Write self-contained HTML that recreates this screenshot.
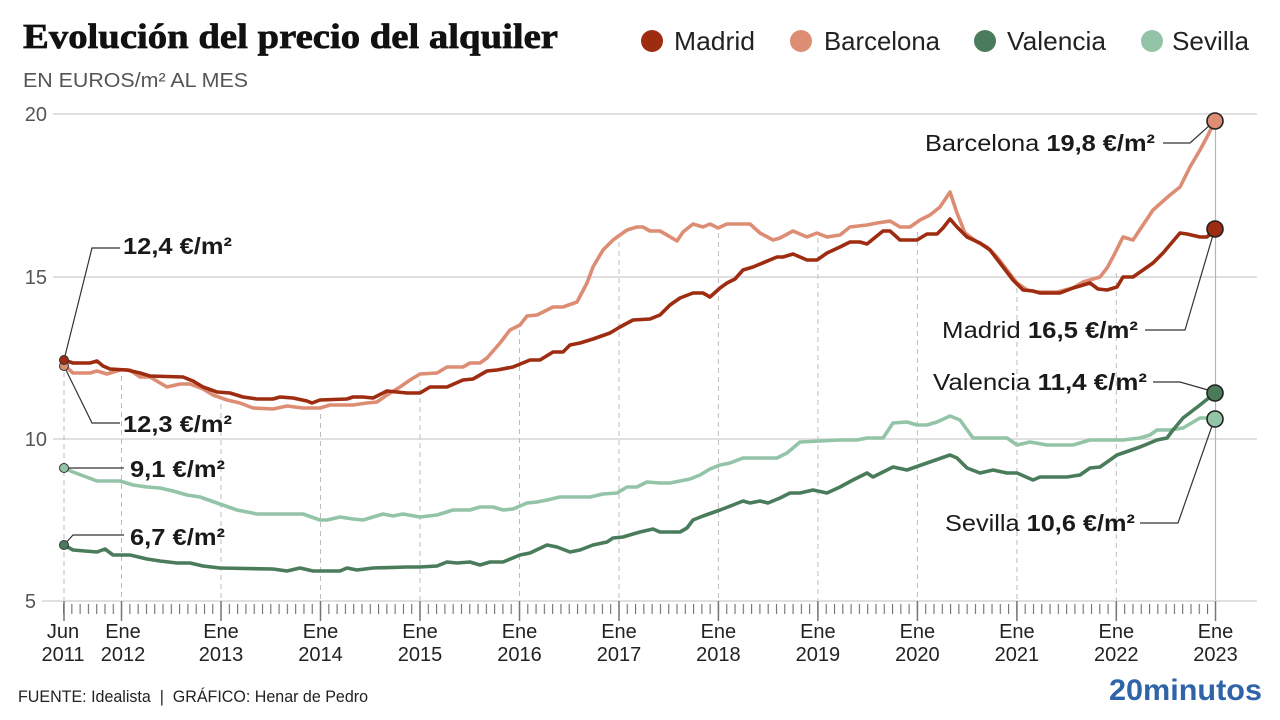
<!DOCTYPE html>
<html>
<head>
<meta charset="utf-8">
<style>
  html,body{margin:0;padding:0;background:#fff;}
  svg{display:block;}
  text{font-family:"Liberation Sans", Arial, sans-serif;}
</style>
</head>
<body>
<svg width="1280" height="720" viewBox="0 0 1280 720" xmlns="http://www.w3.org/2000/svg">
  <defs>
    <pattern id="tk" x="63" y="0" width="8.29" height="720" patternUnits="userSpaceOnUse">
      <rect x="0" y="0" width="1.1" height="720" fill="#6f6f6f"/>
    </pattern>
  </defs>
  <rect width="1280" height="720" fill="#fff"/>

  <!-- Title -->
  <text x="23" y="48" font-weight="bold" font-size="35" fill="#111" stroke="#111" stroke-width="0.7" textLength="535" lengthAdjust="spacingAndGlyphs" style="font-family:'Liberation Serif',serif">Evolución del precio del alquiler</text>
  <text x="23" y="87" font-size="20" fill="#555" textLength="225" lengthAdjust="spacingAndGlyphs">EN EUROS/m² AL MES</text>

  <!-- Legend -->
  <circle cx="652" cy="41" r="11" fill="#9e2c10"/>
  <text x="674" y="50" font-size="26" fill="#222" textLength="81" lengthAdjust="spacingAndGlyphs">Madrid</text>
  <circle cx="801" cy="41" r="11" fill="#dc8d74"/>
  <text x="824" y="50" font-size="26" fill="#222" textLength="116" lengthAdjust="spacingAndGlyphs">Barcelona</text>
  <circle cx="985" cy="41" r="11" fill="#4a7c5c"/>
  <text x="1007" y="50" font-size="26" fill="#222" textLength="99" lengthAdjust="spacingAndGlyphs">Valencia</text>
  <circle cx="1152" cy="41" r="11" fill="#93c4a8"/>
  <text x="1172" y="50" font-size="26" fill="#222" textLength="77" lengthAdjust="spacingAndGlyphs">Sevilla</text>

  <!-- Y labels & gridlines -->
  <g font-size="20" fill="#555" text-anchor="end">
    <text x="47" y="121">20</text>
    <text x="47" y="284">15</text>
    <text x="47" y="446">10</text>
    <text x="36" y="608">5</text>
  </g>
  <g stroke="#d6d6d6" stroke-width="1.5">
    <line x1="53" y1="114" x2="1257" y2="114"/>
    <line x1="53" y1="277" x2="1257" y2="277"/>
    <line x1="53" y1="439" x2="1257" y2="439"/>
    <line x1="42" y1="601" x2="1257" y2="601"/>
  </g>

  <!-- Dashed verticals -->
  <g stroke="#bdbdbd" stroke-width="1" stroke-dasharray="5,4">
    <line x1="64" y1="372" x2="64" y2="600"/>
    <line x1="121.5" y1="376" x2="121.5" y2="600"/>
    <line x1="221" y1="404" x2="221" y2="600"/>
    <line x1="320.5" y1="414" x2="320.5" y2="600"/>
    <line x1="420" y1="380" x2="420" y2="600"/>
    <line x1="519.5" y1="330" x2="519.5" y2="600"/>
    <line x1="619" y1="242" x2="619" y2="600"/>
    <line x1="718.4" y1="233" x2="718.4" y2="600"/>
    <line x1="817.9" y1="238" x2="817.9" y2="600"/>
    <line x1="917.4" y1="232" x2="917.4" y2="600"/>
    <line x1="1016.9" y1="288" x2="1016.9" y2="600"/>
    <line x1="1116.3" y1="273" x2="1116.3" y2="600"/>
  </g>
  <line x1="1215.5" y1="121" x2="1215.5" y2="600" stroke="#b5b5b5" stroke-width="1.2"/>

  <!-- Ticks -->
  <rect x="63" y="604" width="1153" height="10" fill="url(#tk)"/>
  <g stroke="#777" stroke-width="1.5">
    <line x1="64" y1="601" x2="64" y2="621"/>
    <line x1="121.5" y1="601" x2="121.5" y2="621"/>
    <line x1="221" y1="601" x2="221" y2="621"/>
    <line x1="320.5" y1="601" x2="320.5" y2="621"/>
    <line x1="420" y1="601" x2="420" y2="621"/>
    <line x1="519.5" y1="601" x2="519.5" y2="621"/>
    <line x1="619" y1="601" x2="619" y2="621"/>
    <line x1="718.4" y1="601" x2="718.4" y2="621"/>
    <line x1="817.9" y1="601" x2="817.9" y2="621"/>
    <line x1="917.4" y1="601" x2="917.4" y2="621"/>
    <line x1="1016.9" y1="601" x2="1016.9" y2="621"/>
    <line x1="1116.3" y1="601" x2="1116.3" y2="621"/>
    <line x1="1215.5" y1="601" x2="1215.5" y2="621"/>
  </g>

  <!-- X labels -->
  <g font-size="20" fill="#222" text-anchor="middle">
    <text x="63" y="638">Jun</text><text x="63" y="661">2011</text>
    <text x="123" y="638">Ene</text><text x="123" y="661">2012</text>
    <text x="221" y="638">Ene</text><text x="221" y="661">2013</text>
    <text x="320.5" y="638">Ene</text><text x="320.5" y="661">2014</text>
    <text x="420" y="638">Ene</text><text x="420" y="661">2015</text>
    <text x="519.5" y="638">Ene</text><text x="519.5" y="661">2016</text>
    <text x="619" y="638">Ene</text><text x="619" y="661">2017</text>
    <text x="718.4" y="638">Ene</text><text x="718.4" y="661">2018</text>
    <text x="817.9" y="638">Ene</text><text x="817.9" y="661">2019</text>
    <text x="917.4" y="638">Ene</text><text x="917.4" y="661">2020</text>
    <text x="1016.9" y="638">Ene</text><text x="1016.9" y="661">2021</text>
    <text x="1116.3" y="638">Ene</text><text x="1116.3" y="661">2022</text>
    <text x="1215.5" y="638">Ene</text><text x="1215.5" y="661">2023</text>
  </g>

  <!-- Series -->
  <g fill="none" stroke-width="3.6" stroke-linejoin="round" stroke-linecap="round">
    <polyline stroke="#93c4a8" points="64,468 73,472 97,481 120,481 133,485 147,487 160,488 173,491 187,495 200,497 217,503 237,510 257,514 303,514 320,520 327,520 340,517 353,519 363,520 373,517 383,514 393,516 403,514 420,517 437,515 453,510 470,510 480,507 493,507 503,510 513,509 527,503 537,502 547,500 560,497 590,497 603,494 617,493 627,487 637,487 647,482 660,483 670,483 680,481 690,479 700,475 710,469 720,465 730,463 743,458 777,458 787,453 800,442 840,440 857,440 867,438 883,438 893,423 907,422 917,425 927,425 937,422 950,416 960,420 973,438 1007,438 1017,445 1030,442 1047,445 1073,445 1090,440 1123,440 1140,438 1150,435 1157,430 1170,430 1183,428 1200,418 1207,418 1215,419"/>
    <polyline stroke="#4a7c5c" points="64,545 73,550 97,552 105,549 113,555 130,555 147,559 160,561 177,563 190,563 203,566 220,568 273,569 287,571 300,568 313,571 340,571 347,568 357,570 373,568 407,567 420,567 437,566 447,562 457,563 470,562 480,565 490,562 503,562 520,555 530,553 547,545 557,547 570,552 580,550 593,545 607,542 613,538 623,537 640,532 653,529 660,532 680,532 687,528 693,520 703,516 720,510 733,505 743,501 750,503 760,501 768,503 780,498 790,493 800,493 813,490 827,493 840,487 853,480 867,473 873,477 893,467 907,470 927,463 950,455 957,458 967,468 980,473 993,470 1007,473 1017,473 1033,480 1040,477 1067,477 1080,475 1090,468 1100,467 1117,455 1140,447 1157,440 1167,438 1173,430 1183,418 1200,405 1215,393"/>
    <polyline stroke="#dc8d74" points="64,365 73,373 90,373 97,371 107,374 120,370 130,370 140,377 150,377 167,387 180,384 190,384 203,389 213,395 227,400 240,403 253,408 273,409 287,406 303,408 320,408 330,405 353,405 367,403 377,402 387,395 400,387 410,380 420,374 437,373 447,367 463,367 470,363 480,363 487,358 500,343 510,330 520,325 527,316 537,315 553,307 563,307 577,302 587,283 593,267 603,250 613,240 627,230 637,227 643,227 650,231 660,231 667,235 677,241 683,232 693,224 703,227 710,224 718,228 727,224 750,224 760,233 773,240 780,238 793,231 807,237 817,233 827,237 840,235 850,227 867,225 877,223 890,221 900,227 910,227 920,220 930,215 940,207 950,192 957,213 965,233 977,242 987,247 997,257 1007,270 1017,283 1027,290 1037,292 1057,292 1073,288 1083,282 1100,277 1107,268 1113,257 1123,237 1133,240 1143,225 1153,210 1170,195 1180,187 1190,167 1200,150 1207,137 1215,121"/>
    <polyline stroke="#9e2c10" points="64,360 73,363 90,363 97,361 103,366 110,369 127,370 140,373 150,376 183,377 193,381 203,387 217,392 230,393 243,397 257,399 273,399 280,397 293,398 307,401 312,403 320,400 347,399 353,397 363,397 373,398 387,391 397,392 407,393 420,393 430,387 447,387 463,380 473,379 487,371 497,370 513,367 530,360 540,360 553,352 563,352 570,345 580,343 593,339 610,333 620,327 633,320 650,319 660,315 670,305 680,298 693,293 703,293 710,297 720,288 727,283 735,279 743,270 753,267 777,257 783,257 793,254 807,260 817,260 827,253 840,247 850,242 860,242 867,244 883,231 890,231 900,240 917,240 927,234 937,234 943,228 950,219 957,227 967,237 980,243 990,250 1000,263 1013,280 1023,290 1033,291 1040,293 1060,293 1073,288 1090,283 1098,289 1107,290 1117,287 1123,277 1133,277 1153,263 1163,253 1180,233 1187,234 1200,237 1207,237 1215,229"/>
  </g>

  <!-- Leader lines -->
  <g fill="none" stroke="#333" stroke-width="1.2">
    <polyline points="64,360 92,248 120,248"/>
    <polyline points="64,366 92,423 120,423"/>
    <polyline points="64,468 124,468"/>
    <polyline points="64,545 73,535 124,535"/>
    <polyline points="1163,143 1190,143 1210,125"/>
    <polyline points="1145,330 1185,330 1213,235"/>
    <polyline points="1153,382 1180,382 1208,390"/>
    <polyline points="1140,523 1178,523 1212,426"/>
  </g>

  <!-- Dots -->
  <g stroke="#333" stroke-width="1">
    <circle cx="64" cy="366" r="4.5" fill="#dc8d74"/>
    <circle cx="64" cy="360" r="4.5" fill="#9e2c10"/>
    <circle cx="64" cy="468" r="4.5" fill="#93c4a8"/>
    <circle cx="64" cy="545" r="4.5" fill="#4a7c5c"/>
  </g>
  <g stroke="#222" stroke-width="1.6">
    <circle cx="1215" cy="121" r="8" fill="#dc8d74"/>
    <circle cx="1215" cy="229" r="8" fill="#9e2c10"/>
    <circle cx="1215" cy="393" r="8" fill="#4a7c5c"/>
    <circle cx="1215" cy="419" r="8" fill="#93c4a8"/>
  </g>

  <!-- Left annotations -->
  <g font-size="23" font-weight="bold" fill="#1a1a1a">
    <text x="123" y="254" textLength="109" lengthAdjust="spacingAndGlyphs">12,4 €/m²</text>
    <text x="123" y="432" textLength="109" lengthAdjust="spacingAndGlyphs">12,3 €/m²</text>
    <text x="130" y="477" textLength="95" lengthAdjust="spacingAndGlyphs">9,1 €/m²</text>
    <text x="130" y="545" textLength="95" lengthAdjust="spacingAndGlyphs">6,7 €/m²</text>
  </g>

  <!-- Right annotations -->
  <g font-size="23" fill="#1a1a1a">
    <text x="925" y="151" textLength="230" lengthAdjust="spacingAndGlyphs">Barcelona <tspan font-weight="bold">19,8 €/m²</tspan></text>
    <text x="942" y="338" textLength="196" lengthAdjust="spacingAndGlyphs">Madrid <tspan font-weight="bold">16,5 €/m²</tspan></text>
    <text x="933" y="390" textLength="214" lengthAdjust="spacingAndGlyphs">Valencia <tspan font-weight="bold">11,4 €/m²</tspan></text>
    <text x="945" y="531" textLength="190" lengthAdjust="spacingAndGlyphs">Sevilla <tspan font-weight="bold">10,6 €/m²</tspan></text>
  </g>

  <!-- Footer -->
  <text x="18" y="702" font-size="16.5" fill="#222" textLength="350" lengthAdjust="spacingAndGlyphs">FUENTE: Idealista &#160;|&#160; GRÁFICO: Henar de Pedro</text>
  <text x="1109" y="700" font-size="30" font-weight="bold" fill="#2f64a8" textLength="153" lengthAdjust="spacingAndGlyphs">20minutos</text>
</svg>
</body>
</html>
